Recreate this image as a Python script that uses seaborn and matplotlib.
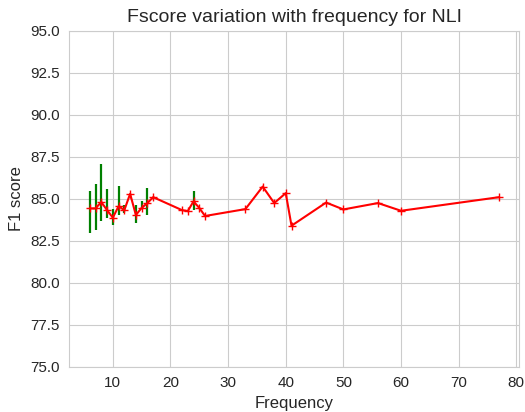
import numpy as np
import pandas as pd
import matplotlib
matplotlib.use("Agg")
import matplotlib.pyplot as plt
import seaborn as sns

# =============================
# DATA
# =============================
freq = [6, 7, 8, 9, 10, 11, 12, 13, 14, 15, 16, 17,
        22, 23, 24, 25, 26, 33, 36, 38, 40, 41, 47, 50, 56, 60, 77]
f1 = [84.42, 84.42, 84.80, 84.32, 83.87, 84.55, 84.32, 85.29, 84.03, 84.45, 84.74, 85.09,
      84.32, 84.26, 84.84, 84.45, 83.97, 84.38, 85.72, 84.74, 85.33, 83.39, 84.77, 84.36,
      84.74, 84.28, 85.09]

# spread bars (bottom / top of each green bar)
err_x = [6, 7, 8, 9, 10, 11, 12, 14, 15, 16, 24]
err_lo = [82.95, 83.12, 83.65, 83.85, 83.43, 84.05, 84.13, 83.55, 84.40, 84.03, 84.33]
err_hi = [85.45, 85.85, 87.05, 85.55, 84.40, 85.75, 84.60, 84.60, 84.86, 85.65, 85.46]

df = pd.DataFrame({"Frequency": freq, "F1 score": f1})

# =============================
# STYLE
# =============================
sns.set_style("whitegrid")
plt.rcParams["font.family"] = ["Liberation Sans", "DejaVu Sans"]

fig, ax = plt.subplots(figsize=(5.25, 4.12), dpi=100)
fig.subplots_adjust(left=0.132, right=0.9895, top=0.9255, bottom=0.110)

ax.vlines(err_x, err_lo, err_hi, color="green", linewidth=1.6, zorder=2)
sns.lineplot(data=df, x="Frequency", y="F1 score", color="red", marker="+",
             markersize=6, markeredgewidth=1.0, markeredgecolor="red",
             linewidth=1.5, ax=ax, zorder=3)

ax.set_ylim(75, 95)
ax.set_yticks(np.arange(75, 95.1, 2.5))
ax.set_title("Fscore variation with frequency for NLI", fontsize=14, color=".15")
ax.set_xlabel("Frequency", fontsize=12, color=".15")
ax.set_ylabel("F1 score", fontsize=12, color=".15")
ax.tick_params(labelsize=11, colors=".15")

plt.savefig("out.png", dpi=100)
